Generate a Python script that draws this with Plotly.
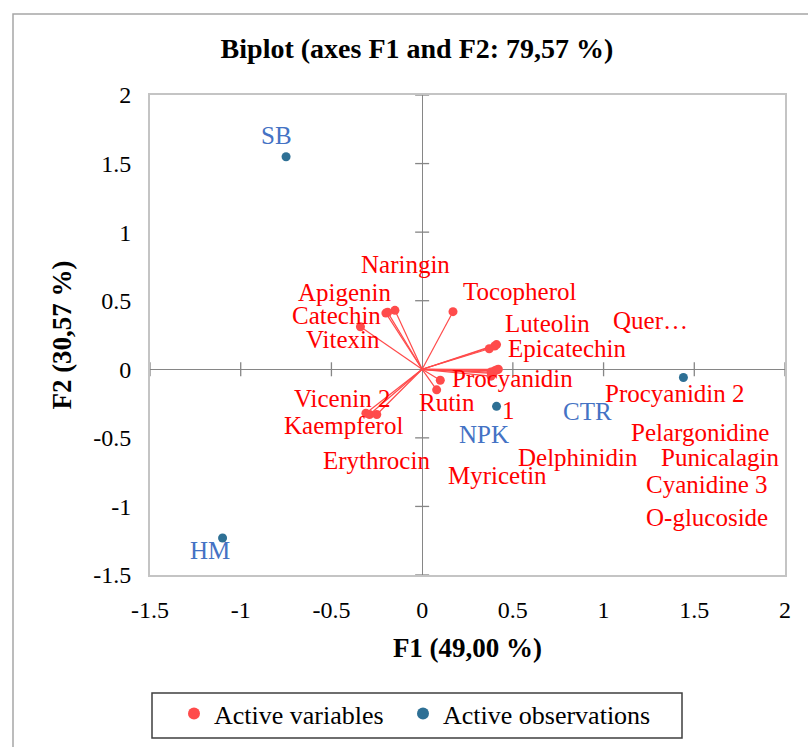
import plotly.graph_objects as go

# Variable loadings on F1 / F2
var_names = ["Naringin", "Apigenin", "Catechin", "Vitexin", "Tocopherol",
             "Luteolin", "Quercetin", "Epicatechin", "Procyanidin 1",
             "Procyanidin 2", "Pelargonidine", "Punicalagin",
             "Cyanidine 3 O-glucoside", "Delphinidin", "Myricetin", "Rutin",
             "Vicenin 2", "Kaempferol", "Erythrocin"]
var_f1 = [-0.15, -0.20, -0.19, -0.34, 0.17,
          0.41, 0.40, 0.37, 0.42,
          0.38, 0.40, 0.41,
          0.39, 0.38, 0.10, 0.08,
          -0.31, -0.29, -0.25]
var_f2 = [0.43, 0.41, 0.415, 0.31, 0.42,
          0.18, 0.17, 0.15, 0.00,
          -0.02, -0.01, -0.005,
          -0.03, -0.05, -0.08, -0.15,
          -0.32, -0.33, -0.33]

# Observation scores on F1 / F2
obs_names = ["SB", "HM", "CTR", "NPK"]
obs_f1 = [-0.75, -1.10, 1.44, 0.41]
obs_f2 = [1.55, -1.23, -0.06, -0.27]

x_ticks = [-1.5, -1, -0.5, 0, 0.5, 1, 1.5, 2]
y_ticks = [-1.5, -1, -0.5, 0, 0.5, 1, 1.5, 2]

# Label placement (data coordinates); wrapped labels get one entry per line
var_label_pos = [
    ("Naringin", -0.094, 0.766),
    ("Apigenin", -0.424, 0.562),
    ("Catechin", -0.474, 0.394),
    ("Vitexin", -0.435, 0.219),
    ("Tocopherol", 0.54, 0.569),
    ("Luteolin", 0.689, 0.336),
    ("Quer…", 1.257, 0.357),
    ("Epicatechin", 0.80, 0.153),
    ("Procyanidin", 0.496, -0.066),
    ("1", 0.474, -0.30),
    ("Procyanidin 2", 1.395, -0.175),
    ("Pelargonidine", 1.533, -0.46),
    ("Punicalagin", 1.643, -0.642),
    ("Cyanidine 3", 1.571, -0.839),
    ("O-glucoside", 1.571, -1.08),
    ("Delphinidin", 0.86, -0.642),
    ("Myricetin", 0.413, -0.773),
    ("Rutin", 0.138, -0.24),
    ("Vicenin 2", -0.44, -0.21),
    ("Kaempferol", -0.435, -0.408),
    ("Erythrocin", -0.254, -0.664),
]
obs_label_pos = [
    ("SB", -0.805, 1.707),
    ("HM", -1.169, -1.32),
    ("CTR", 0.91, -0.306),
    ("NPK", 0.342, -0.474),
]

RED = "#FF0000"
RED_MARK = "#FF4B4B"
BLUE_MARK = "#2E7095"
BLUE_TXT = "#4472C4"
SERIF = "Liberation Serif"

fig = go.Figure()

# arrows from origin to each variable
lx, ly = [], []
for x, y in zip(var_f1, var_f2):
    lx += [0, x, None]
    ly += [0, y, None]
fig.add_trace(go.Scatter(x=lx, y=ly, mode="lines",
                         line=dict(color="#FF4A4A", width=1.2),
                         showlegend=False, hoverinfo="skip"))

# small tick marks crossing the zero axes
tx = [v for v in x_ticks if v != 0]
ty = [v for v in y_ticks if v != 0]
fig.add_trace(go.Scatter(x=tx, y=[0] * len(tx), mode="markers",
                         marker=dict(symbol="line-ns", size=10,
                                     line=dict(color="#868686", width=1.3)),
                         showlegend=False, hoverinfo="skip"))
fig.add_trace(go.Scatter(x=[0] * len(ty), y=ty, mode="markers",
                         marker=dict(symbol="line-ew", size=10,
                                     line=dict(color="#868686", width=1.3)),
                         showlegend=False, hoverinfo="skip"))

fig.add_trace(go.Scatter(x=var_f1, y=var_f2, mode="markers",
                         name="Active variables", text=var_names,
                         marker=dict(color=RED_MARK, size=9),
                         legend="legend"))
fig.add_trace(go.Scatter(x=obs_f1, y=obs_f2, mode="markers",
                         name="Active observations", text=obs_names,
                         marker=dict(color=BLUE_MARK, size=9),
                         legend="legend2"))

for txt, x, y in var_label_pos:
    fig.add_annotation(x=x, y=y, text=txt, showarrow=False,
                       font=dict(family=SERIF, size=25, color=RED))
for txt, x, y in obs_label_pos:
    fig.add_annotation(x=x, y=y, text=txt, showarrow=False,
                       font=dict(family=SERIF, size=25, color=BLUE_TXT))

axis_common = dict(showgrid=False, zeroline=True, zerolinecolor="#868686",
                   zerolinewidth=1.3, showline=True, mirror=True,
                   linecolor="#C4C4C4", linewidth=2, ticks="",
                   ticklabelstandoff=12,
                   tickfont=dict(family=SERIF, size=24, color="black"))

legend_common = dict(orientation="h", xanchor="left",
                     y=-(690 - 575) / 480, yanchor="top",
                     bgcolor="rgba(0,0,0,0)", borderwidth=0,
                     font=dict(family=SERIF, size=26, color="black"),
                     itemsizing="constant")

fig.update_layout(
    width=808, height=747,
    margin=dict(l=150, r=23, t=95, b=172, autoexpand=False),
    paper_bgcolor="white", plot_bgcolor="white",
    title=dict(text="<b>Biplot (axes F1 and F2: 79,57 %)</b>",
               x=417 / 808, xanchor="center", xref="container",
               y=1 - 48 / 747, yanchor="middle", yref="container",
               font=dict(family=SERIF, size=28, color="black")),
    xaxis=dict(range=[-1.5, 2], tickvals=x_ticks,
               ticktext=[f"{v:g}" for v in x_ticks],
               title=dict(text="<b>F1 (49,00 %)</b>", standoff=16,
                          font=dict(family=SERIF, size=27, color="black")),
               **axis_common),
    yaxis=dict(range=[-1.5, 2], tickvals=y_ticks,
               ticktext=[f"{v:g}" for v in y_ticks],
               title=dict(text="<b>F2 (30,57 %)</b>", standoff=14,
                          font=dict(family=SERIF, size=27, color="black")),
               **axis_common),
    legend=dict(x=(174 - 150) / 635, **legend_common),
    legend2=dict(x=(403 - 150) / 635, **legend_common),
    shapes=[
        # outer chart frame
        dict(type="rect", xref="paper", yref="paper",
             x0=-137 / 635, x1=1.1, y0=-0.5, y1=1 + 81 / 480,
             line=dict(color="#A6A6A6", width=1.5), layer="below"),
        # legend box
        dict(type="rect", xref="paper", yref="paper",
             x0=(152 - 150) / 635, x1=(682 - 150) / 635,
             y0=-(738 - 575) / 480, y1=-(693 - 575) / 480,
             line=dict(color="#3F3F3F", width=1.5), layer="below"),
    ],
)

fig.write_html("out.html")
